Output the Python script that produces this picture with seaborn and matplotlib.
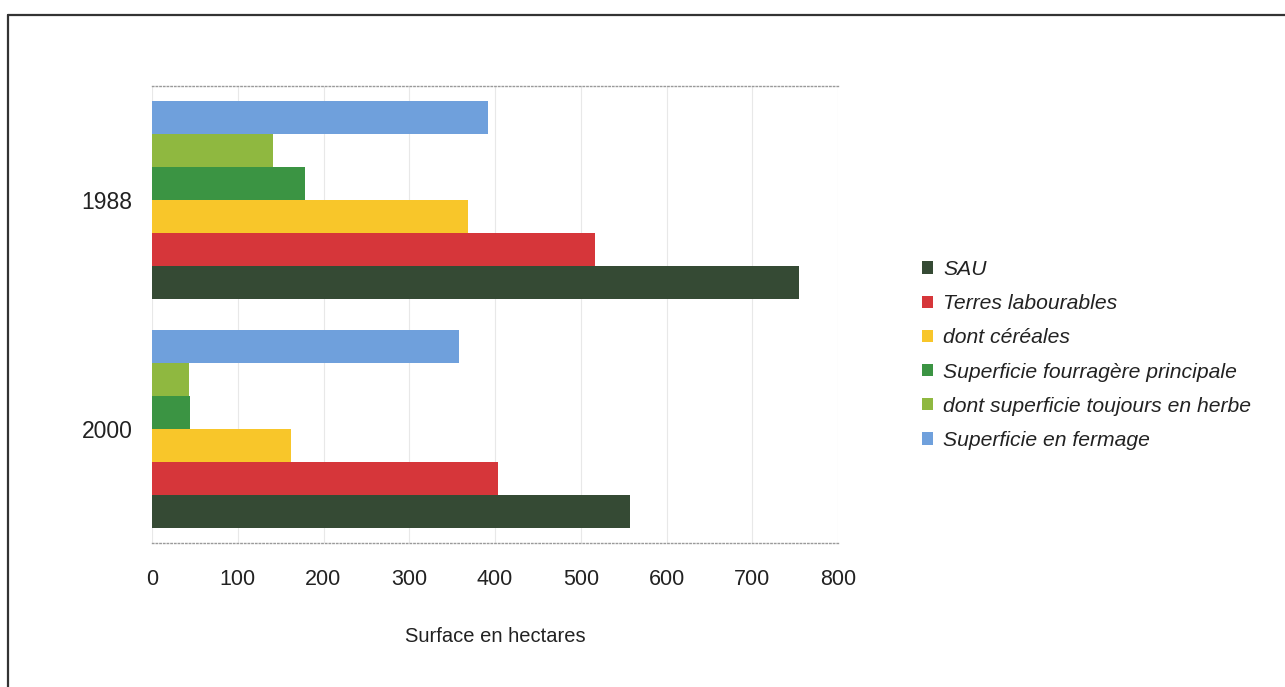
import matplotlib
matplotlib.use("Agg")
import matplotlib.pyplot as plt
import seaborn as sns
import pandas as pd
from matplotlib.patches import Patch
from matplotlib.lines import Line2D

# Surfaces agricoles (hectares) par recensement
years = ["1988", "2000"]
series = [
    "SAU",
    "Terres labourables",
    "dont céréales",
    "Superficie fourragère principale",
    "dont superficie toujours en herbe",
    "Superficie en fermage",
]
sau = [755, 558]
terres_labourables = [517, 404]
cereales = [369, 162]
fourragere = [178, 44]
toujours_en_herbe = [141, 43]
fermage = [392, 358]
xticks = [0, 100, 200, 300, 400, 500, 600, 700, 800]

colors = ["#354a34", "#d6363a", "#f8c62a", "#3b9443", "#8fb840", "#6fa0dc"]

values = [sau, terres_labourables, cereales, fourragere, toujours_en_herbe, fermage]
rows = []
for name, vals in zip(series, values):
    for year, v in zip(years, vals):
        rows.append({"annee": year, "serie": name, "surface": v})
df = pd.DataFrame(rows)

sns.set_theme(style="white")
plt.rcParams["font.family"] = ["Liberation Sans", "DejaVu Sans"]

W, H = 1285, 687
fig = plt.figure(figsize=(W / 100, H / 100), dpi=100)
ax = fig.add_axes([152 / W, 1 - 543 / H, (838 - 152) / W, (543 - 86) / H])

palette = dict(zip(series, colors))
sns.barplot(
    data=df, y="annee", x="surface", hue="serie",
    order=years, hue_order=series[::-1], palette=palette,
    orient="h", width=0.865, gap=0, saturation=1,
    linewidth=0, legend=False, ax=ax,
)

ax.set_xlim(0, 800)
ax.set_ylim(1.5, -0.5)
ax.set_xticks(xticks)
ax.set_xticklabels([str(t) for t in xticks])
ax.xaxis.grid(True, color="#e8e8e8", linewidth=0.8)
ax.yaxis.grid(False)
ax.set_axisbelow(True)

for side in ("left", "right"):
    ax.spines[side].set_visible(False)
for side in ("top", "bottom"):
    ax.spines[side].set_color("#9a9a9a")
    ax.spines[side].set_linestyle(":")
    ax.spines[side].set_linewidth(1.0)

ax.tick_params(axis="x", length=0, pad=19, labelsize=15.5, labelcolor="#222222")
ax.tick_params(axis="y", length=0, pad=14, labelsize=16.5, labelcolor="#222222")
ax.set_ylabel("")
ax.set_xlabel("Surface en hectares", fontsize=14.5, color="#222222", labelpad=26)

handles = [Patch(facecolor=c, edgecolor="none") for c in colors]
fig.legend(
    handles, series, loc="center left",
    bbox_to_anchor=(903 / W, 1 - 355 / H),
    frameon=False, prop={"size": 15.2, "style": "italic"},
    handlelength=0.5, handleheight=0.5, handletextpad=0.5,
    labelspacing=0.72, labelcolor="#222222",
)

# cadre du graphique
fig.add_artist(Line2D([8 / W, 1], [1 - 15 / H, 1 - 15 / H], transform=fig.transFigure,
                      color="#333333", linewidth=1.6))
fig.add_artist(Line2D([8 / W, 8 / W], [0, 1 - 15 / H], transform=fig.transFigure,
                      color="#333333", linewidth=1.6))

fig.savefig("out.png", dpi=100)
